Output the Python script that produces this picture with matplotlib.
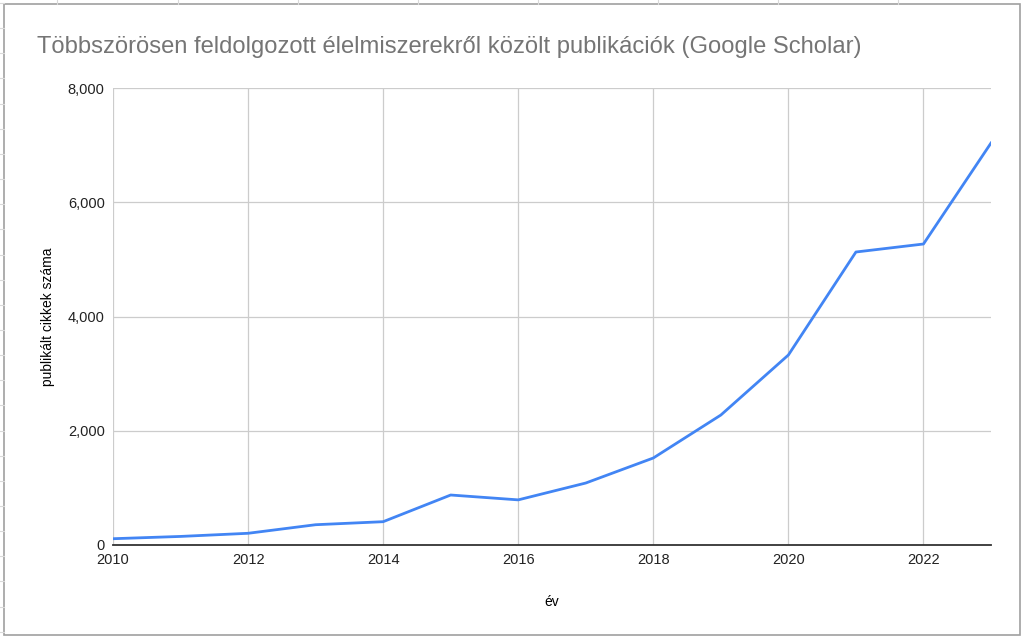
import matplotlib.pyplot as plt
from matplotlib.patches import Rectangle
from matplotlib.lines import Line2D

ev = [2010, 2011, 2012, 2013, 2014, 2015, 2016, 2017, 2018, 2019, 2020, 2021, 2022, 2023]
cikkek = [110, 150, 205, 355, 408, 875, 790, 1085, 1523, 2275, 3326, 5129, 5269, 7037]

x_ticks = [2010, 2012, 2014, 2016, 2018, 2020, 2022]
y_ticks = [0, 2000, 4000, 6000, 8000]

plt.rcParams['font.family'] = ['Liberation Sans', 'DejaVu Sans']

W, H = 1024, 636
fig = plt.figure(figsize=(W / 100, H / 100), dpi=100)

# spreadsheet cells behind the chart
for xp in [57, 178, 298, 418, 538, 658, 778, 898]:
    fig.add_artist(Line2D([xp / W, xp / W], [1 - 4 / H, 1], color='#d9d9d9', lw=0.8))
k = 0
while 3 + 25.15 * k < H:
    yp = 3 + 25.15 * k
    fig.add_artist(Line2D([0, 4 / W], [1 - yp / H, 1 - yp / H], color='#d9d9d9', lw=0.8))
    k += 1

# chart frame
fig.add_artist(Rectangle((4 / W, 1 / H), 1016 / W, 631 / H, transform=fig.transFigure,
                         fill=False, edgecolor='#a0a0a0', lw=1.2))

ax = fig.add_axes([113 / W, 1 - 545 / H, (991 - 113) / W, (545 - 88) / H])

ax.plot(ev, cikkek, color='#4285F4', lw=2.0)

ax.set_xlim(2010, 2023)
ax.set_ylim(0, 8000)
ax.set_xticks(x_ticks)
ax.set_yticks(y_ticks)
ax.set_yticklabels(['{:,}'.format(v) for v in y_ticks])
ax.grid(True, color='#cccccc', lw=0.9)
ax.set_axisbelow(True)

for s in ['top', 'right', 'left']:
    ax.spines[s].set_visible(False)
ax.spines['bottom'].set_color('#333333')
ax.spines['bottom'].set_linewidth(1.3)
ax.tick_params(length=0, labelsize=10.5, colors='#222222', pad=5)
ax.tick_params(axis='x', pad=6)
ax.tick_params(axis='y', pad=6)

ax.set_xlabel('év', fontsize=10, labelpad=20)
ax.set_ylabel('publikált cikkek száma', fontsize=10, labelpad=9)

fig.text(37 / W, 1 - 47 / H, 'Többszörösen feldolgozott élelmiszerekről közölt publikációk (Google Scholar)',
         fontsize=17.1, color='#757575', va='center', ha='left')

fig.savefig('out.png', dpi=100)
